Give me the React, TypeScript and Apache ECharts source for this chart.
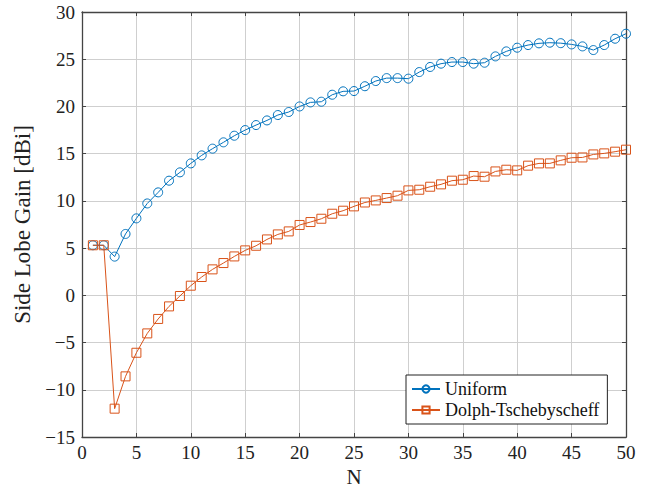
import React, { useEffect, useRef } from "react";
import * as echarts from "echarts";

const N: number[] = Array.from({ length: 50 }, (_, i) => i + 1);

const uniform: number[] = [
  5.3, 5.3, 4.1, 6.5, 8.15, 9.73, 10.9, 12.14, 13.02, 13.97,
  14.82, 15.53, 16.2, 16.9, 17.5, 18.03, 18.52, 19.09, 19.41, 20.0,
  20.43, 20.5, 21.24, 21.6, 21.63, 22.14, 22.69, 23.0, 23.0, 22.94,
  23.64, 24.18, 24.53, 24.7, 24.7, 24.53, 24.63, 25.3, 25.83, 26.22,
  26.5, 26.68, 26.75, 26.7, 26.57, 26.36, 25.97, 26.5, 27.17, 27.7,
];

const dolph: number[] = [
  5.3, 5.3, -12.0, -8.58, -6.08, -4.03, -2.5, -1.17, -0.07, 1.02,
  1.94, 2.75, 3.42, 4.12, 4.76, 5.25, 5.92, 6.45, 6.77, 7.45,
  7.76, 8.11, 8.64, 8.96, 9.42, 9.83, 10.05, 10.3, 10.55, 11.11,
  11.18, 11.5, 11.75, 12.14, 12.24, 12.63, 12.56, 13.12, 13.3, 13.23,
  13.73, 13.97, 13.97, 14.29, 14.57, 14.6, 14.92, 15.03, 15.21, 15.42,
];

const seriesNames: string[] = ["Uniform", "Dolph-Tschebyscheff"];
const colors: string[] = ["#0072BD", "#D95319"];

const FONT = "Liberation Serif";

export default function App() {
  const ref = useRef<HTMLDivElement>(null);
  useEffect(() => {
    if (!ref.current) return;
    const chart = echarts.init(ref.current, null, { renderer: "svg" });
    const tickStyle = { show: true, inside: true, length: 4, lineStyle: { color: "#444", width: 1 } };
    const label = { color: "#222", fontSize: 19, fontFamily: FONT };
    const lineAxis = { show: true, onZero: false, lineStyle: { color: "#444", width: 1.3 } };
    chart.setOption({
      animation: false,
      backgroundColor: "#fff",
      textStyle: { fontFamily: FONT },
      grid: {
        left: 82, right: 26, top: 12, bottom: 51,
        show: false, outerBoundsMode: "none", containLabel: false,
      },
      legend: {
        data: seriesNames,
        left: 406, top: 375, orient: "vertical",
        backgroundColor: "#fff", borderColor: "#222", borderWidth: 1,
        padding: [5, 8, 5, 5], itemGap: 3, itemWidth: 28, itemHeight: 9,
        textStyle: { color: "#111", fontSize: 18, fontFamily: FONT },
      },
      xAxis: [
        {
          type: "value", min: 0, max: 50, interval: 5,
          name: "N", nameLocation: "middle", nameGap: 27,
          nameTextStyle: { color: "#222", fontSize: 21, fontFamily: FONT },
          axisLine: lineAxis,
          axisTick: tickStyle,
          axisLabel: { ...label, margin: 6 },
          splitLine: { show: true, lineStyle: { color: "#cfcfcf", width: 1 } },
        },
        {
          type: "value", min: 0, max: 50, interval: 5, position: "top",
          axisLine: lineAxis,
          axisTick: tickStyle, axisLabel: { show: false }, splitLine: { show: false },
        },
      ],
      yAxis: [
        {
          type: "value", min: -15, max: 30, interval: 5,
          name: "Side Lobe Gain [dBi]", nameLocation: "middle", nameGap: 47,
          nameTextStyle: { color: "#222", fontSize: 23, fontFamily: FONT },
          axisLine: lineAxis,
          axisTick: tickStyle,
          axisLabel: { ...label, margin: 7, formatter: (v: number) => (v < 0 ? "\u2212" + Math.abs(v) : String(v)) },
          splitLine: { show: true, lineStyle: { color: "#cfcfcf", width: 1 } },
        },
        {
          type: "value", min: -15, max: 30, interval: 5, position: "right",
          axisLine: lineAxis,
          axisTick: tickStyle, axisLabel: { show: false }, splitLine: { show: false },
        },
      ],
      series: [
        {
          name: seriesNames[0], type: "line",
          data: N.map((n, i) => [n, uniform[i]]),
          symbol: "circle", symbolSize: 9,
          lineStyle: { color: colors[0], width: 1 },
          itemStyle: { color: "rgba(255,255,255,0)", borderColor: colors[0], borderWidth: 1 },
        },
        {
          name: seriesNames[1], type: "line",
          data: N.map((n, i) => [n, dolph[i]]),
          symbol: "rect", symbolSize: 9,
          lineStyle: { color: colors[1], width: 1 },
          itemStyle: { color: "rgba(255,255,255,0)", borderColor: colors[1], borderWidth: 1 },
        },
      ],
    });
    return () => chart.dispose();
  }, []);
  return <div ref={ref} style={{ width: 652, height: 488, position: "absolute", left: 0, top: 0 }} />;
}
